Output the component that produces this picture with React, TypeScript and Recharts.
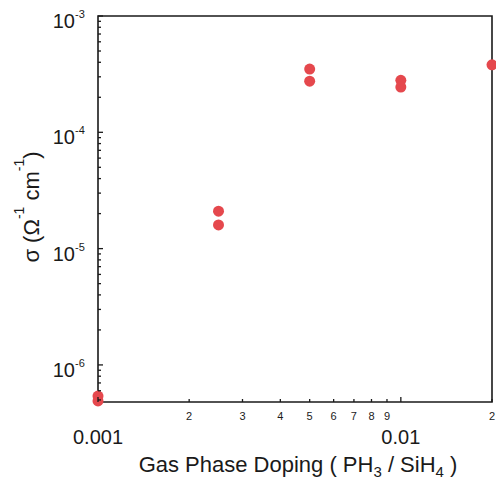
import { ScatterChart, Scatter, XAxis, YAxis, ReferenceArea } from 'recharts';

// tick values (log axes)
const xTicks = [0.001, 0.002, 0.003, 0.004, 0.005, 0.006, 0.007, 0.008, 0.009, 0.01, 0.02];
const yTicks = [
  5e-7, 6e-7, 7e-7, 8e-7, 9e-7,
  1e-6, 2e-6, 3e-6, 4e-6, 5e-6, 6e-6, 7e-6, 8e-6, 9e-6,
  1e-5, 2e-5, 3e-5, 4e-5, 5e-5, 6e-5, 7e-5, 8e-5, 9e-5,
  1e-4, 2e-4, 3e-4, 4e-4, 5e-4, 6e-4, 7e-4, 8e-4, 9e-4,
  1e-3,
];
const xMajorLabels: Record<string, string> = { '0.001': '0.001', '0.01': '0.01' };
const xDomain = [0.001, 0.02];
const yDomain = [4.8e-7, 1e-3];

// measured points
const dopingRatio = [0.001, 0.001, 0.0025, 0.0025, 0.005, 0.005, 0.01, 0.01, 0.02];
const conductivity = [5.4e-7, 4.9e-7, 2.1e-5, 1.6e-5, 3.5e-4, 2.75e-4, 2.8e-4, 2.45e-4, 3.8e-4];

const points = dopingRatio.map((x, i) => ({ x, y: conductivity[i] }));

const FONT = '"Liberation Sans", Arial, Helvetica, sans-serif';
const INK = '#1a1a1a';
const RED = '#e5484d';

const isDecade = (v: number) => Math.abs(Math.log10(v) - Math.round(Math.log10(v))) < 1e-6;
const leadDigit = (v: number) => Math.round(v / Math.pow(10, Math.floor(Math.log10(v) + 1e-9)));

const BottomTick = (props: any) => {
  const { x, y, payload } = props;
  const v = payload.value;
  const major = isDecade(v);
  return (
    <g>
      <path d={`M${x},${y}V${y - (major ? 5 : 3)}`} stroke={INK} strokeWidth={1.3} fill="none" />
      {major ? (
        <text x={x} y={y + 42} textAnchor="middle" fontSize={20} fill={INK} fontFamily={FONT}>
          {xMajorLabels[String(v)] ?? String(v)}
        </text>
      ) : (
        <text x={x} y={y + 18} textAnchor="middle" fontSize={11} fill={INK} fontFamily={FONT}>
          {leadDigit(v)}
        </text>
      )}
    </g>
  );
};

const TopTick = (props: any) => {
  const { x, y, payload } = props;
  const major = isDecade(payload.value);
  return <path d={`M${x},${y}V${y + (major ? 5 : 3)}`} stroke={INK} strokeWidth={1.3} fill="none" />;
};

const LeftTick = (props: any) => {
  const { x, y, payload } = props;
  const v = payload.value;
  const major = isDecade(v);
  return (
    <g>
      <path d={`M${x},${y}H${x + (major ? 5 : 3)}`} stroke={INK} strokeWidth={1.3} fill="none" />
      {major && (
        <g fontFamily={FONT} fill={INK}>
          <text x={x - 23} y={y + 12} textAnchor="end" fontSize={20}>10</text>
          <text x={x - 23} y={y + 2} textAnchor="start" fontSize={11}>{Math.round(Math.log10(v))}</text>
        </g>
      )}
    </g>
  );
};

const RightTick = (props: any) => {
  const { x, y, payload } = props;
  const major = isDecade(payload.value);
  return <path d={`M${x},${y}H${x - (major ? 5 : 3)}`} stroke={INK} strokeWidth={1.3} fill="none" />;
};

export default function App() {
  return (
    <div style={{ position: 'absolute', left: 0, top: 0, width: 496, height: 482, background: '#fff' }}>
      <ScatterChart width={496} height={482} margin={{ top: 15, right: 3, bottom: 0, left: 0 }}>
        <XAxis
          xAxisId="b"
          dataKey="x"
          type="number"
          scale="log"
          domain={xDomain}
          ticks={xTicks}
          interval={0}
          height={80}
          tickSize={0}
          tickMargin={0}
          tickLine={false}
          axisLine={false}
          tick={BottomTick}
        />
        <XAxis
          xAxisId="t"
          orientation="top"
          dataKey="x"
          type="number"
          scale="log"
          domain={xDomain}
          ticks={xTicks}
          interval={0}
          height={1}
          tickSize={0}
          tickMargin={0}
          tickLine={false}
          axisLine={false}
          tick={TopTick}
        />
        <YAxis
          yAxisId="l"
          dataKey="y"
          type="number"
          scale="log"
          domain={yDomain}
          ticks={yTicks}
          interval={0}
          width={98}
          tickSize={0}
          tickMargin={0}
          tickLine={false}
          axisLine={false}
          tick={LeftTick}
        />
        <YAxis
          yAxisId="r"
          orientation="right"
          dataKey="y"
          type="number"
          scale="log"
          domain={yDomain}
          ticks={yTicks}
          interval={0}
          width={1}
          tickSize={0}
          tickMargin={0}
          tickLine={false}
          axisLine={false}
          tick={RightTick}
        />
        <ReferenceArea
          xAxisId="b"
          yAxisId="l"
          x1={xDomain[0]}
          x2={xDomain[1]}
          y1={yDomain[0]}
          y2={yDomain[1]}
          fill="none"
          fillOpacity={0}
          stroke={INK}
          strokeWidth={1.6}
          ifOverflow="visible"
        />
        <Scatter
          xAxisId="b"
          yAxisId="l"
          data={points}
          fill={RED}
          isAnimationActive={false}
          shape={(p: any) => <circle cx={p.cx} cy={p.cy} r={5.5} fill={RED} />}
        />
        <text x={298} y={472} textAnchor="middle" fontSize={22} fill={INK} fontFamily={FONT}>
          <tspan>Gas Phase Doping ( PH</tspan>
          <tspan dy={5} fontSize={15}>3</tspan>
          <tspan dy={-5}> / SiH</tspan>
          <tspan dy={5} fontSize={15}>4</tspan>
          <tspan dy={-5}> )</tspan>
        </text>
        <text
          x={0}
          y={0}
          transform="translate(39, 207) rotate(-90)"
          textAnchor="middle"
          fontSize={22}
          fill={INK}
          fontFamily={FONT}
        >
          <tspan>σ (Ω</tspan>
          <tspan dy={-15} fontSize={14}>-1</tspan>
          <tspan dy={15}> cm</tspan>
          <tspan dy={-15} fontSize={14}>-1</tspan>
          <tspan dy={15}>)</tspan>
        </text>
      </ScatterChart>
    </div>
  );
}
